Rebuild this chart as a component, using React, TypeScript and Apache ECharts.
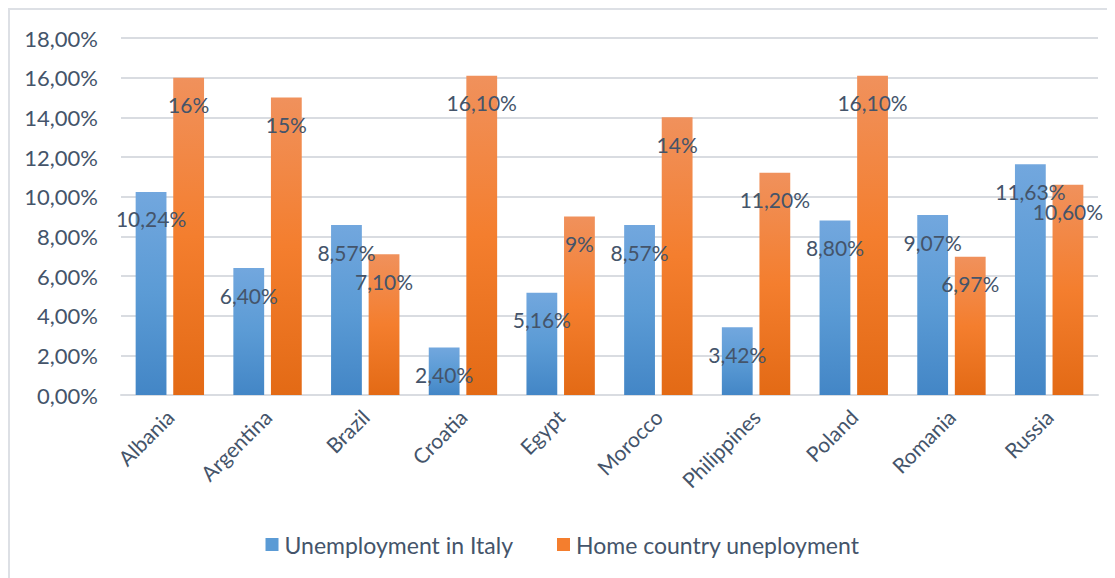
import React, { useEffect, useRef } from "react";
import * as echarts from "echarts";

const categories = ["Albania", "Argentina", "Brazil", "Croatia", "Egypt", "Morocco", "Philippines", "Poland", "Romania", "Russia"];
const italyValues = [10.24, 6.40, 8.57, 2.40, 5.16, 8.57, 3.42, 8.80, 9.07, 11.63];
const homeValues = [16, 15, 7.10, 16.10, 9, 14, 11.20, 16.10, 6.97, 10.60];
const italyLabels = ["10,24%", "6,40%", "8,57%", "2,40%", "5,16%", "8,57%", "3,42%", "8,80%", "9,07%", "11,63%"];
const homeLabels = ["16%", "15%", "7,10%", "16,10%", "9%", "14%", "11,20%", "16,10%", "6,97%", "10,60%"];
const seriesNames = ["Unemployment in Italy", "Home country uneployment"];
const yTicks = ["0,00%", "2,00%", "4,00%", "6,00%", "8,00%", "10,00%", "12,00%", "14,00%", "16,00%", "18,00%"];

const FONT = "Lato, 'Open Sans', sans-serif";
const TEXT = "#44546A";

export default function App() {
  const ref = useRef<HTMLDivElement>(null);
  useEffect(() => {
    if (!ref.current) return;
    const chart = echarts.init(ref.current, null, { renderer: "svg" });
    const blue = new echarts.graphic.LinearGradient(0, 0, 0, 1, [
      { offset: 0, color: "#72A7DE" },
      { offset: 0.5, color: "#5B9BD5" },
      { offset: 1, color: "#4386C6" },
    ]);
    const orange = new echarts.graphic.LinearGradient(0, 0, 0, 1, [
      { offset: 0, color: "#F0915C" },
      { offset: 0.5, color: "#F47E2E" },
      { offset: 1, color: "#E36A15" },
    ]);
    const label = (arr: string[]) => ({
      show: true,
      position: "insideTop",
      distance: 16,
      color: TEXT,
      fontFamily: FONT,
      fontSize: 21,
      lineHeight: 22,
      formatter: (p: any) => arr[p.dataIndex],
    });
    chart.setOption({
      animation: false,
      textStyle: { fontFamily: FONT },
      grid: { left: 111, right: 17, top: 28, bottom: 183, containLabel: false },
      legend: {
        bottom: 17,
        left: "center",
        itemWidth: 13,
        itemHeight: 13,
        itemGap: 44,
        icon: "rect",
        textStyle: { color: TEXT, fontSize: 23, fontFamily: FONT, padding: [0, 0, 0, 1] },
        data: [
          { name: seriesNames[0], itemStyle: { color: "#5B9BD5" } },
          { name: seriesNames[1], itemStyle: { color: "#F47E2E" } },
        ],
      },
      xAxis: {
        type: "category",
        data: categories,
        axisLine: { lineStyle: { color: "#D9DCE1", width: 2 } },
        axisTick: { show: false },
        axisLabel: { rotate: 45, color: TEXT, fontSize: 21, fontFamily: FONT, margin: 18, interval: 0 },
      },
      yAxis: {
        type: "value",
        min: 0,
        max: 18,
        interval: 2,
        axisLine: { show: false },
        axisTick: { show: false },
        splitLine: { lineStyle: { color: "#D9DCE1", width: 2 } },
        axisLabel: {
          color: TEXT,
          fontSize: 22,
          fontFamily: FONT,
          margin: 23,
          formatter: (v: number) => yTicks[Math.round(v / 2)],
        },
      },
      series: [
        {
          name: seriesNames[0],
          type: "bar",
          data: italyValues,
          barGap: "22%",
          barCategoryGap: "30%",
          itemStyle: { color: blue },
          label: label(italyLabels),
        },
        {
          name: seriesNames[1],
          type: "bar",
          data: homeValues,
          itemStyle: { color: orange },
          label: label(homeLabels),
        },
      ],
    });
    return () => chart.dispose();
  }, []);
  return (
    <div
      ref={ref}
      style={{
        width: 1107,
        height: 570,
        boxSizing: "border-box",
        borderTop: "2px solid #DDE0E5",
        borderLeft: "2px solid #DDE0E5",
        background: "#fff",
      }}
    />
  );
}
